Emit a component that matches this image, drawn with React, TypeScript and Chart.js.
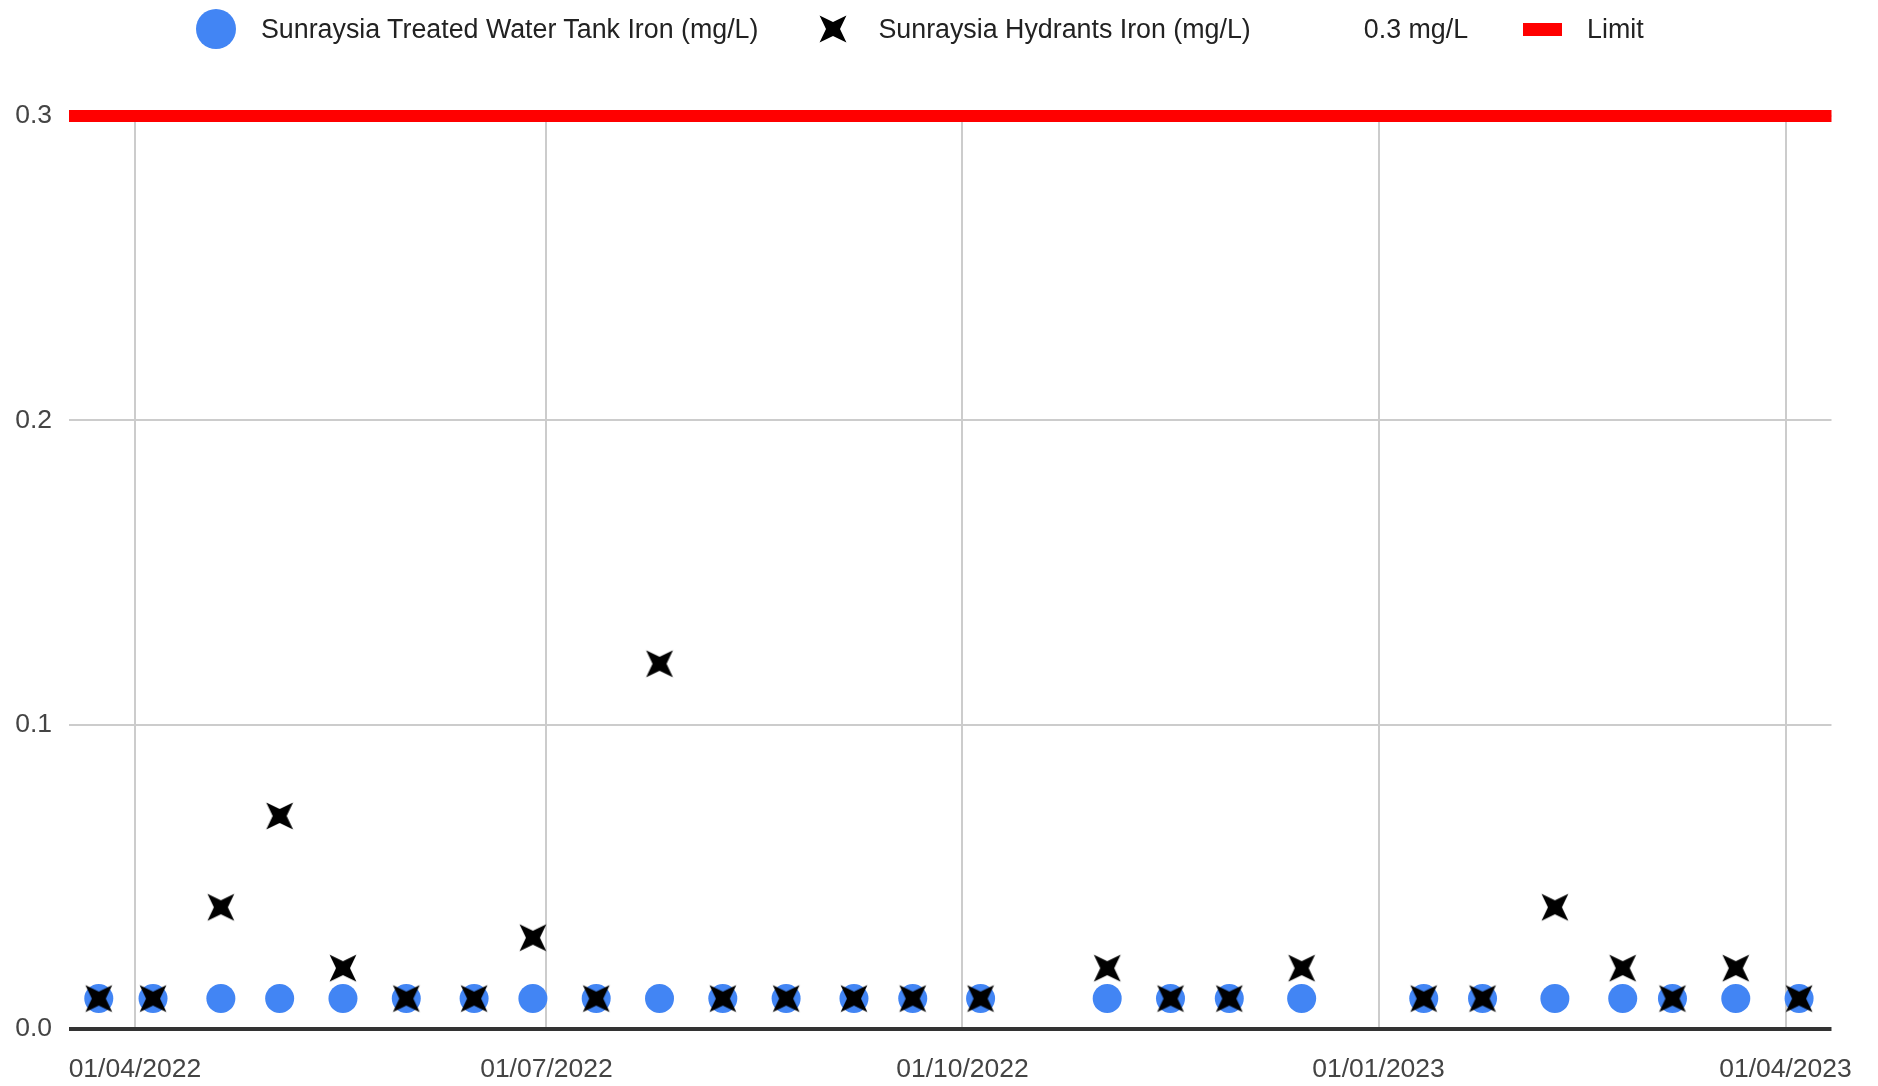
import React, { useEffect, useRef } from 'react';
import { Chart, registerables } from 'chart.js';

Chart.register(...registerables);

// ---- Data ----
const sampleDates = [
  '2022-03-24', '2022-04-05', '2022-04-20', '2022-05-03', '2022-05-17', '2022-05-31',
  '2022-06-15', '2022-06-28', '2022-07-12', '2022-07-26', '2022-08-09', '2022-08-23',
  '2022-09-07', '2022-09-20', '2022-10-05', '2022-11-02', '2022-11-16', '2022-11-29',
  '2022-12-15', '2023-01-11', '2023-01-24', '2023-02-09', '2023-02-24', '2023-03-07',
  '2023-03-21', '2023-04-04',
];
const tankIron = [
  0.01, 0.01, 0.01, 0.01, 0.01, 0.01, 0.01, 0.01, 0.01, 0.01, 0.01, 0.01, 0.01,
  0.01, 0.01, 0.01, 0.01, 0.01, 0.01, 0.01, 0.01, 0.01, 0.01, 0.01, 0.01, 0.01,
];
const hydrantIron = [
  0.01, 0.01, 0.04, 0.07, 0.02, 0.01, 0.01, 0.03, 0.01, 0.12, 0.01, 0.01, 0.01,
  0.01, 0.01, 0.02, 0.01, 0.01, 0.02, 0.01, 0.01, 0.04, 0.02, 0.01, 0.02, 0.01,
];
const limitValue = 0.3;
const seriesLabels = [
  'Sunraysia Treated Water Tank Iron (mg/L)',
  'Sunraysia Hydrants Iron (mg/L)',
  '0.3 mg/L',
  'Limit',
];
const xTickLabels = ['01/04/2022', '01/07/2022', '01/10/2022', '01/01/2023', '01/04/2023'];
const yTickValues = [0, 0.1, 0.2, 0.3];
const xRange = ['2022-03-17T10:00:00Z', '2023-04-11T04:00:00Z'];

// ---- Helpers ----
const DAY = 86400000;
const dayNum = (s: string) => Date.parse(s.length === 10 ? s + 'T00:00:00Z' : s) / DAY;
const labelToDay = (l: string) => {
  const [d, m, y] = l.split('/');
  return dayNum(`${y}-${m}-${d}`);
};

const FONT = '"Liberation Sans", Arial, sans-serif';
const BLUE = '#4285f4';

function starPoints(cx: number, cy: number, outer: number, inner: number) {
  const pts: [number, number][] = [];
  for (let i = 0; i < 8; i++) {
    const r = i % 2 === 0 ? outer : inner;
    const a = Math.PI / 4 + (i * Math.PI) / 4;
    pts.push([cx + r * Math.cos(a), cy + r * Math.sin(a)]);
  }
  return pts;
}

function makeStar(size: number, outer: number, inner: number, color: string) {
  const c = document.createElement('canvas');
  c.width = size;
  c.height = size;
  const ctx = c.getContext('2d')!;
  const pts = starPoints(size / 2, size / 2, outer, inner);
  ctx.beginPath();
  pts.forEach(([x, y], i) => (i === 0 ? ctx.moveTo(x, y) : ctx.lineTo(x, y)));
  ctx.closePath();
  ctx.fillStyle = color;
  ctx.fill();
  return c;
}

function Legend() {
  const svgStar = starPoints(15, 15, 19, 7)
    .map(([x, y]) => `${x.toFixed(2)},${y.toFixed(2)}`)
    .join(' ');
  return (
    <div
      style={{
        position: 'absolute',
        left: 0,
        top: 0,
        width: 1878,
        height: 58,
        display: 'flex',
        alignItems: 'center',
        paddingLeft: 196,
        boxSizing: 'border-box',
        fontFamily: FONT,
        fontSize: 26.8,
        color: '#222',
        whiteSpace: 'nowrap',
      }}
    >
      <span style={{ width: 40, height: 40, borderRadius: '50%', background: BLUE, flex: 'none' }} />
      <span style={{ marginLeft: 25 }}>{seriesLabels[0]}</span>
      <svg width={30} height={30} style={{ marginLeft: 60, flex: 'none' }}>
        <polygon points={svgStar} fill="#000" />
      </svg>
      <span style={{ marginLeft: 30 }}>{seriesLabels[1]}</span>
      <span style={{ marginLeft: 113 }}>{seriesLabels[2]}</span>
      <span style={{ width: 39, height: 13, background: '#ff0000', marginLeft: 55, flex: 'none' }} />
      <span style={{ marginLeft: 25 }}>{seriesLabels[3]}</span>
    </div>
  );
}

export default function App() {
  const ref = useRef<HTMLCanvasElement | null>(null);

  useEffect(() => {
    if (!ref.current) return;
    const star = makeStar(42, 19, 7, '#000');
    const xMin = dayNum(xRange[0]);
    const xMax = dayNum(xRange[1]);
    const xTickValues = xTickLabels.map(labelToDay);

    const chart = new Chart(ref.current, {
      type: 'scatter',
      data: {
        datasets: [
          {
            label: seriesLabels[1],
            data: sampleDates.map((d, i) => ({ x: dayNum(d), y: hydrantIron[i] })),
            pointStyle: star as any,
            pointRadius: 14,
            pointHoverRadius: 14,
            backgroundColor: '#000',
            borderWidth: 0,
          },
          {
            label: seriesLabels[0],
            data: sampleDates.map((d, i) => ({ x: dayNum(d), y: tankIron[i] })),
            pointStyle: 'circle',
            pointRadius: 14.5,
            pointHoverRadius: 14.5,
            backgroundColor: BLUE,
            borderWidth: 0,
          },
          {
            type: 'line',
            label: seriesLabels[3],
            data: [
              { x: xMin, y: limitValue },
              { x: xMax, y: limitValue },
            ],
            borderColor: '#ff0000',
            backgroundColor: '#ff0000',
            borderWidth: 12,
            borderCapStyle: 'butt',
            pointRadius: 0,
            pointHoverRadius: 0,
            showLine: true,
            clip: false as any,
          } as any,
        ],
      },
      options: {
        animation: false,
        responsive: false,
        maintainAspectRatio: false,
        events: [],
        layout: { padding: { left: 0, right: 45, top: 116, bottom: 0 } },
        plugins: {
          legend: { display: false },
          tooltip: { enabled: false },
        },
        scales: {
          x: {
            type: 'linear',
            min: xMin,
            max: xMax,
            afterBuildTicks: (s: any) => {
              s.ticks = xTickValues.map((v) => ({ value: v }));
            },
            afterFit: (s: any) => {
              s.height = 57;
            },
            ticks: {
              autoSkip: false,
              maxRotation: 0,
              minRotation: 0,
              padding: 25,
              color: '#444',
              font: { family: FONT, size: 26.5 },
              callback: (_v: any, i: number) => xTickLabels[i],
            },
            grid: { color: '#cccccc', lineWidth: 2, drawTicks: false },
            border: { display: false },
          },
          y: {
            min: 0,
            max: 0.3,
            afterBuildTicks: (s: any) => {
              s.ticks = yTickValues.map((v) => ({ value: v }));
            },
            afterFit: (s: any) => {
              s.width = 69;
            },
            ticks: {
              padding: 17,
              color: '#444',
              font: { family: FONT, size: 26.5 },
              callback: (v: any) => Number(v).toFixed(1),
            },
            grid: {
              color: (c: any) => (c.tick && c.tick.value === 0 ? '#333333' : '#cccccc'),
              lineWidth: (c: any) => (c.tick && c.tick.value === 0 ? 4 : 2),
              drawTicks: false,
            },
            border: { display: false },
          },
        },
      },
    });
    return () => chart.destroy();
  }, []);

  return (
    <div style={{ position: 'absolute', left: 0, top: 0, width: 1878, height: 1086, background: '#fff' }}>
      <canvas ref={ref} width={1878} height={1086} style={{ position: 'absolute', left: 0, top: 0, width: 1878, height: 1086 }} />
      <Legend />
    </div>
  );
}
